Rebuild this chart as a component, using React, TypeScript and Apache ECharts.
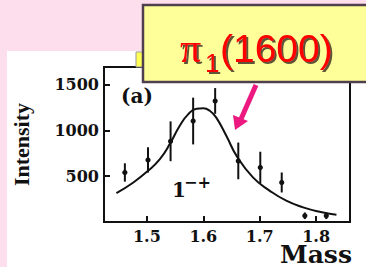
import React, { useEffect, useRef } from "react";
import * as echarts from "echarts";

const xTicks = [1.5, 1.6, 1.7, 1.8];
const yTicks = [500, 1000, 1500];

const pointMass = [1.461, 1.502, 1.542, 1.582, 1.621, 1.662, 1.701, 1.739, 1.78, 1.818];
const pointIntensity = [540, 677, 880, 1101, 1320, 666, 594, 431, 68, 68];
const pointError = [100, 138, 217, 255, 140, 200, 172, 109, 36, 36];

const curveMass = [1.446, 1.476, 1.502, 1.523, 1.542, 1.558, 1.573, 1.588, 1.6, 1.612, 1.623, 1.641, 1.659, 1.688, 1.718, 1.747, 1.777, 1.806, 1.836];
const curveIntensity = [315, 431, 558, 685, 866, 1047, 1174, 1236, 1239, 1210, 1138, 938, 721, 486, 340, 232, 160, 112, 79];

const INK = "#111";
const SERIF_WIDE = "DejaVu Serif";
const SERIF = "Liberation Serif";

export default function App() {
  const ref = useRef<HTMLDivElement>(null);
  useEffect(() => {
    if (!ref.current) return;
    const chart = echarts.init(ref.current, undefined, { renderer: "svg" });
    const shadow = {
      textShadowColor: "rgba(40,30,30,0.75)",
      textShadowOffsetX: 2,
      textShadowOffsetY: 2,
      textShadowBlur: 1,
    };
    const option: any = {
      animation: false,
      backgroundColor: "transparent",
      grid: { left: 104, right: 16, top: 67, bottom: 44, show: true, borderColor: INK, borderWidth: 2, backgroundColor: "#fff" },
      xAxis: {
        type: "value",
        min: 1.424,
        max: 1.86,
        splitLine: { show: false },
        axisLine: { lineStyle: { color: INK, width: 2 } },
        axisTick: { inside: true, length: 6, customValues: xTicks, lineStyle: { color: INK, width: 2 } },
        axisLabel: {
          customValues: xTicks,
          formatter: (v: number) => v.toFixed(1),
          color: INK,
          fontFamily: SERIF_WIDE,
          fontWeight: "bold",
          fontSize: 16,
          margin: 6,
        },
        name: "Mass",
        nameLocation: "end",
        nameGap: -70,
        nameMoveOverlap: false,
        nameTextStyle: {
          color: INK,
          fontFamily: SERIF_WIDE,
          fontWeight: "bold",
          fontSize: 25,
          align: "left",
          verticalAlign: "top",
          padding: [20, 0, 0, 0],
        },
      },
      yAxis: {
        type: "value",
        min: 0,
        max: 1690,
        interval: 500,
        splitLine: { show: false },
        axisLine: { lineStyle: { color: INK, width: 2 } },
        axisTick: { inside: true, length: 6, customValues: yTicks, lineStyle: { color: INK, width: 2 } },
        axisLabel: {
          customValues: yTicks,
          formatter: (v: number) => String(v),
          color: INK,
          fontFamily: SERIF_WIDE,
          fontWeight: "bold",
          fontSize: 16,
          margin: 5,
        },
        name: "Intensity",
        nameLocation: "middle",
        nameGap: 72,
        nameMoveOverlap: false,
        nameTextStyle: { color: INK, fontFamily: SERIF, fontWeight: "bold", fontSize: 22 },
      },
      series: [
        {
          type: "line",
          data: curveMass.map((m, i) => [m, curveIntensity[i]]),
          smooth: 0.5,
          symbol: "none",
          lineStyle: { color: INK, width: 2 },
          z: 3,
        },
        {
          type: "custom",
          data: pointMass.map((m, i) => [m, pointIntensity[i], pointError[i]]),
          encode: { x: 0, y: 1 },
          z: 4,
          renderItem: (params: any, api: any) => {
            const x = api.value(0);
            const y = api.value(1);
            const e = api.value(2);
            const top = api.coord([x, y + e]);
            const bot = api.coord([x, y - e]);
            const c = api.coord([x, y]);
            return {
              type: "group",
              children: [
                { type: "line", shape: { x1: top[0], y1: top[1], x2: bot[0], y2: bot[1] }, style: { stroke: INK, lineWidth: 2 } },
                { type: "circle", shape: { cx: c[0], cy: c[1], r: 2.6 }, style: { fill: INK } },
              ],
            };
          },
        },
      ],
      graphic: [
        { type: "rect", z: -10, shape: { x: 7, y: 51, width: 359, height: 216 }, style: { fill: "#fff" } },
        { type: "rect", z: 20, shape: { x: 136, y: 52, width: 7, height: 15 }, style: { fill: "#FFFF55", stroke: "#999", lineWidth: 1 } },
        { type: "rect", z: 50, shape: { x: 143, y: 5, width: 240, height: 77 }, style: { fill: "#FFFF99", stroke: "#4F3F4F", lineWidth: 2.5 } },
        { type: "text", z: 60, x: 180, y: 48, style: { text: "π", fill: "#FF0000", font: `42px "${SERIF}"`, verticalAlign: "middle", ...shadow } },
        { type: "text", z: 60, x: 205, y: 63, style: { text: "1", fill: "#FF0000", font: `26px "Liberation Sans"`, verticalAlign: "middle", ...shadow } },
        { type: "text", z: 60, x: 220, y: 48.5, style: { text: "(1600)", fill: "#FF0000", font: `39px "Liberation Sans"`, verticalAlign: "middle", ...shadow } },
        { type: "line", z: 40, shape: { x1: 256, y1: 85, x2: 241, y2: 119 }, style: { stroke: "#EC1A80", lineWidth: 5 } },
        { type: "polygon", z: 40, shape: { points: [[235, 130], [248, 121], [233, 115]] }, style: { fill: "#EC1A80" } },
        { type: "text", z: 30, x: 121, y: 96, style: { text: "(a)", fill: INK, font: `bold 20px "${SERIF_WIDE}"`, verticalAlign: "middle" } },
        { type: "text", z: 30, x: 172, y: 190, style: { text: "1", fill: INK, font: `bold 20px "${SERIF_WIDE}"`, verticalAlign: "middle" } },
        { type: "text", z: 30, x: 184, y: 182, style: { text: "−+", fill: INK, font: `bold 16px "${SERIF_WIDE}"`, verticalAlign: "middle" } },
      ],
    };
    chart.setOption(option);
    return () => chart.dispose();
  }, []);
  return (
    <div
      ref={ref}
      style={{ position: "fixed", left: 0, top: 0, width: 366, height: 267, background: "#FCDEEC" }}
    />
  );
}
